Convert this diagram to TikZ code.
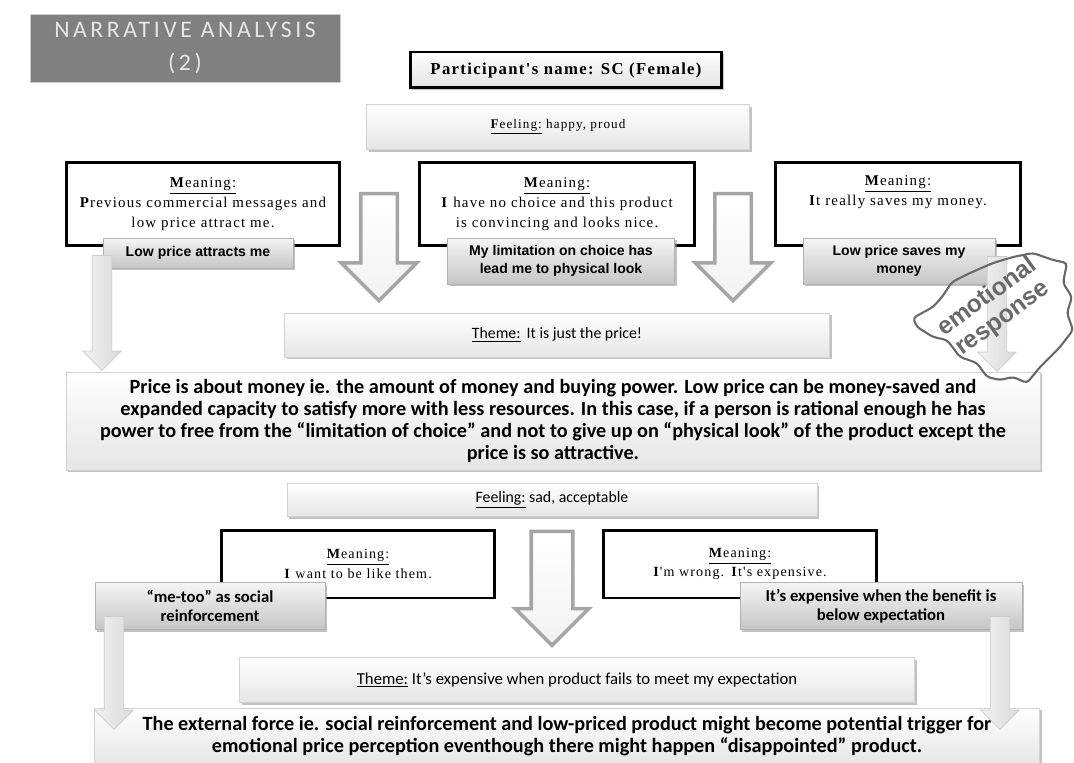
\documentclass[tikz,border=0pt]{standalone}
\usepackage{fontspec}
\setmainfont{Liberation Serif}
\newfontfamily\calfont{Carlito}
\newfontfamily\tagfont{Liberation Sans}
\newfontfamily\spacedfont[LetterSpace=8]{Liberation Serif}
\newfontfamily\titlefont[LetterSpace=15]{Carlito}
\usetikzlibrary{shapes.arrows,shadows}
\definecolor{titlegray}{RGB}{128,128,128}
\definecolor{titletext}{RGB}{230,230,230}
\definecolor{arrowgray}{RGB}{165,165,165}
\definecolor{cloudgray}{RGB}{105,105,105}

\begin{document}
\begin{tikzpicture}[
    x=0.02cm, y=-0.02cm,
    softshadow/.style={drop shadow={shadow xshift=1.2pt, shadow yshift=-1.2pt, fill=gray!80, opacity=0.6}},
    titlebox/.style={rectangle, fill=titlegray, draw=gray!40, text=titletext, align=center, font=\titlefont\fontsize{13.5}{19}\selectfont, minimum width=6.2cm, minimum height=1.36cm},
    namebox/.style={rectangle, draw=black, line width=1.7pt, top color=white, bottom color=gray!22, softshadow, align=center, font=\spacedfont\bfseries\fontsize{9.5}{11}\selectfont, minimum width=6.24cm, minimum height=0.72cm},
    feelbox/.style={rectangle, draw=gray!35, top color=white, bottom color=gray!20, softshadow, align=center},
    meanbox/.style={rectangle, draw=black, line width=1.7pt, fill=white, align=center, font=\spacedfont\fontsize{8.5}{11.4}\selectfont},
    tagbox/.style={rectangle, draw=gray!60, top color=gray!8, bottom color=gray!45, softshadow, align=center, font=\tagfont\bfseries\fontsize{8}{10.2}\selectfont},
    bigbox/.style={feelbox, font=\calfont\bfseries\fontsize{11.5}{12.6}\selectfont},
    fatarrow/.style={single arrow, shape border rotate=270, draw=arrowgray, line width=2pt, top color=white, bottom color=gray!10},
    thinarrow/.style={single arrow, shape border rotate=270, draw=gray!40, left color=gray!10, right color=gray!30, inner sep=0.19cm, single arrow head extend=0.19cm},
    emotext/.style={align=center, text=cloudgray, font=\tagfont\bfseries\fontsize{14}{15}\selectfont}
]
\useasboundingbox (0,0) rectangle (1074,763);

% ------------------ Header ------------------
\node[titlebox] (title) at (185,48) {NARRATIVE ANALYSIS\\(2)};
\node[namebox] (name) at (566,70) {Participant's name: SC (Female)};
\node[feelbox, font=\spacedfont\fontsize{7.5}{9}\selectfont, minimum width=7.66cm, minimum height=0.9cm] (feelA) at (558,127) {\underline{\textbf{F}eeling:} happy, proud};

% ------------------ First meanings ------------------
\node[meanbox, minimum width=5.48cm, minimum height=1.66cm] (meanA) at (203,204) {\underline{\textbf{M}eaning:}\\\textbf{P}revious commercial messages and\\low price attract me.};
\node[meanbox, minimum width=5.5cm, minimum height=1.66cm] (meanB) at (557,204) {\underline{\textbf{M}eaning:}\\\textbf{I} have no choice and this product\\is convincing and looks nice.};
\node[meanbox, minimum width=4.92cm, minimum height=1.66cm] (meanC) at (898,204) {\underline{\textbf{M}eaning:}\\\textbf{I}t really saves my money.\\ \strut};

\node[tagbox, minimum width=3.8cm, minimum height=0.6cm] (tagA) at (198,253) {Low price attracts me};
\node[tagbox, minimum width=4.54cm, minimum height=0.92cm] (tagB) at (561,261) {My limitation on choice has\\lead me to physical look};
\node[tagbox, minimum width=3.84cm, minimum height=0.92cm] (tagC) at (899,261) {Low price saves my\\money};

% ------------------ First theme ------------------
\node[feelbox, font=\calfont\fontsize{9}{11}\selectfont, minimum width=10.9cm, minimum height=0.88cm] (themeA) at (557,335) {\underline{Theme:}\, It is just the price!};

\node[bigbox, minimum width=19.48cm, minimum height=1.96cm] (sumA) at (553,421) {Price is about money ie. the amount of money and buying power. Low price can be money-saved and\\expanded capacity to satisfy more with less resources. In this case, if a person is rational enough he has\\power to free from the “limitation of choice” and not to give up on “physical look” of the product except the\\price is so attractive.};

% ------------------ Second meanings ------------------
\node[feelbox, font=\calfont\fontsize{9}{11}\selectfont, minimum width=10.6cm, minimum height=0.66cm] (feelB) at (552,500) {\underline{Feeling:} sad, acceptable};

\node[meanbox, font=\spacedfont\fontsize{8}{11}\selectfont, minimum width=5.46cm, minimum height=1.36cm] (meanD) at (358,564) {\underline{\textbf{M}eaning:}\\\textbf{I} want to be like them.};
\node[meanbox, font=\spacedfont\fontsize{8}{11}\selectfont, minimum width=5.48cm, minimum height=1.36cm] (meanE) at (740,564) {\underline{\textbf{M}eaning:}\\\textbf{I}'m wrong. \textbf{I}t's expensive.};

\node[tagbox, font=\calfont\bfseries\fontsize{9.5}{11}\selectfont, minimum width=4.6cm, minimum height=0.94cm] (tagD) at (210,606) {“me-too” as social\\reinforcement};
\node[tagbox, font=\calfont\bfseries\fontsize{9.5}{11}\selectfont, minimum width=5.64cm, minimum height=0.94cm] (tagE) at (881,606) {It’s expensive when the benefit is\\below expectation};

% ------------------ Second theme ------------------
\node[feelbox, font=\calfont\fontsize{9.5}{11}\selectfont, minimum width=13.5cm, minimum height=0.9cm] (themeB) at (577,680) {\underline{Theme:} It’s expensive when product fails to meet my expectation};

\node[bigbox, minimum width=18.9cm, minimum height=1.12cm] (sumB) at (567,736) {The external force ie. social reinforcement and low-priced product might become potential trigger for\\emotional price perception eventhough there might happen “disappointed” product.};

% ------------------ Arrows ------------------
\node[fatarrow, minimum height=2.14cm, inner sep=0.33cm, single arrow head extend=0.39cm] (arrA) at (379,238) {};
\node[fatarrow, minimum height=2.14cm, inner sep=0.33cm, single arrow head extend=0.39cm] (arrB) at (733,238) {};
\node[fatarrow, minimum height=2.28cm, inner sep=0.38cm, single arrow head extend=0.32cm] (arrC) at (552,578) {};

\node[thinarrow, minimum height=2.3cm] (thinA) at (102,308) {};
\node[thinarrow, minimum height=2.3cm] (thinB) at (997,309) {};
\node[thinarrow, minimum height=2.26cm] (thinC) at (114,668) {};
\node[thinarrow, minimum height=2.26cm] (thinD) at (1000,668) {};

% ------------------ Cloud ------------------
\draw[cloudgray, line width=1.2pt, rounded corners=2pt] (913,318) -- (933,307) -- (942,297) -- (952,282) -- (970,273) -- (993,263) -- (1013,257) -- (1033,253) -- (1053,260) -- (1067,263) -- (1063,283) -- (1072,297) -- (1067,313) -- (1073,330) -- (1060,347) -- (1050,357) -- (1040,367) -- (1027,383) -- (1013,377) -- (1000,380) -- (987,377) -- (977,363) -- (960,357) -- (947,340) -- (933,337) -- (917,327) -- cycle;
\node[emotext, rotate=36] (emo) at (995,308) {emotional\\response};

\end{tikzpicture}
\end{document}
